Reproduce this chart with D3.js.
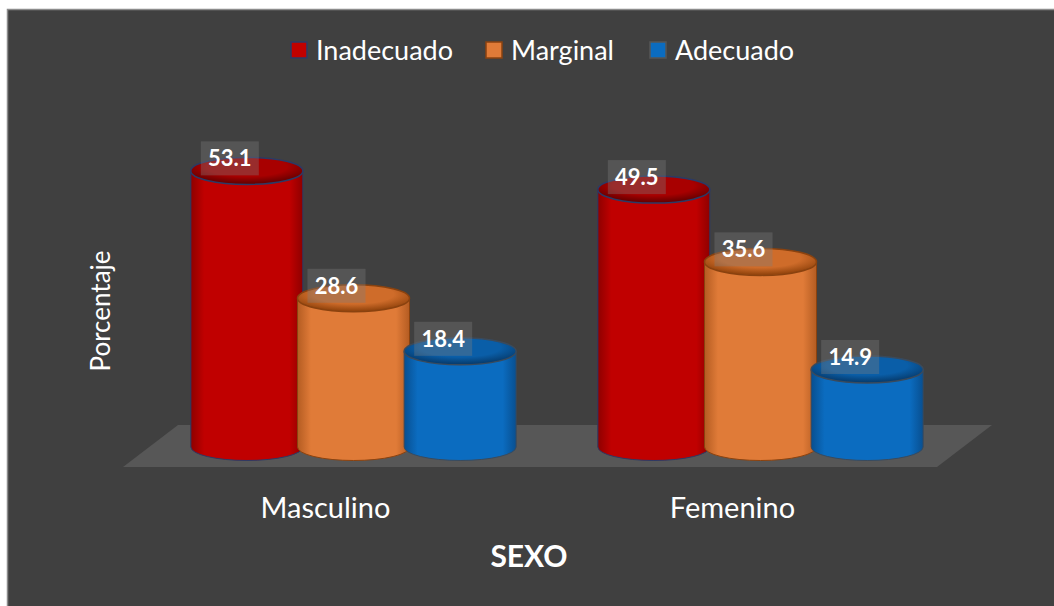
<!DOCTYPE html>
<html>
<head>
<meta charset="utf-8">
<script src="https://cdn.jsdelivr.net/npm/d3@7"></script>
<style>
  html, body { margin: 0; padding: 0; background: #ffffff; }
  svg { display: block; }
  text { font-family: Lato, "Open Sans", sans-serif; }
</style>
</head>
<body>
<svg id="chart" width="1054" height="606"></svg>
<script>
const categories = ["Masculino", "Femenino"];
const seriesNames = ["Inadecuado", "Marginal", "Adecuado"];
const inadecuado = [53.1, 49.5];
const marginal = [28.6, 35.6];
const adecuado = [18.4, 14.9];
const yMax = 60;

const seriesValues = [inadecuado, marginal, adecuado];
const palette = [
  { base: "#c00000", dark: "#8e0000", top: "#a80000", topDark: "#6a0000", stroke: "#2b3a66", legendStroke: "#2b3a66" },
  { base: "#e07b38", dark: "#b45c22", top: "#cf6c2a", topDark: "#97470f", stroke: "#8a420f", legendStroke: "#8a420f" },
  { base: "#0b6cc0", dark: "#084f90", top: "#0a5ea8", topDark: "#063e72", stroke: "#3a4a5c", legendStroke: "#555555" }
];

const svg = d3.select("#chart");
const defs = svg.append("defs");

// frame
svg.append("rect").attr("x", 7.5).attr("y", 9.5).attr("width", 1100).attr("height", 700)
  .attr("fill", "#404040").attr("stroke", "#8c8c8c").attr("stroke-width", 1.5);

// scales
const x = d3.scaleBand().domain(categories).range([150, 964]).padding(0);
const xs = d3.scaleBand().domain(seriesNames).range([-160, 160]).padding(0);
const y = d3.scaleLinear().domain([0, yMax]).range([447, 135]);
const rx = 56, ry = 13.5;

// gradients
palette.forEach((p, i) => {
  const g = defs.append("linearGradient").attr("id", "side" + i).attr("x1", "0").attr("x2", "1").attr("y1", "0").attr("y2", "0");
  [[0, p.dark], [0.12, p.base], [0.5, p.base], [0.88, p.base], [1, p.dark]].forEach(s =>
    g.append("stop").attr("offset", s[0]).attr("stop-color", s[1]));
  const t = defs.append("radialGradient").attr("id", "top" + i).attr("cx", "0.5").attr("cy", "0.35").attr("r", "0.6");
  [[0, p.top], [0.6, p.top], [1, p.topDark]].forEach(s =>
    t.append("stop").attr("offset", s[0]).attr("stop-color", s[1]));
});

// floor
const floorBottom = y(0) + 20, floorTop = y(0) - 22;
const fx0 = x.range()[0], fx1 = x.range()[1];
svg.append("path")
  .attr("d", `M${fx0 - 27},${floorBottom} L${fx0 + 28},${floorTop} L${fx1 + 28},${floorTop} L${fx1 - 27},${floorBottom} Z`)
  .attr("fill", "#575757");

// cylinders
const cyl = svg.append("g");
categories.forEach((c, ci) => {
  seriesNames.forEach((s, si) => {
    const v = seriesValues[si][ci];
    const cx = x(c) + x.bandwidth() / 2 + xs(s) + xs.bandwidth() / 2;
    const yT = y(v), yB = y(0);
    const g = cyl.append("g");
    g.append("path")
      .attr("d", `M${cx - rx},${yT} L${cx - rx},${yB} A${rx},${ry} 0 0 0 ${cx + rx},${yB} L${cx + rx},${yT} Z`)
      .attr("fill", `url(#side${si})`)
      .attr("stroke", palette[si].stroke).attr("stroke-width", 1);
    g.append("ellipse").attr("cx", cx).attr("cy", yT).attr("rx", rx).attr("ry", ry)
      .attr("fill", `url(#top${si})`)
      .attr("stroke", palette[si].stroke).attr("stroke-width", 1.5);
  });
});

// data labels
const lab = svg.append("g");
categories.forEach((c, ci) => {
  seriesNames.forEach((s, si) => {
    const v = seriesValues[si][ci];
    const cx = x(c) + x.bandwidth() / 2 + xs(s) + xs.bandwidth() / 2 - 17;
    const cy = y(v) - ry + 1;
    lab.append("rect").attr("x", cx - 29).attr("y", cy - 17).attr("width", 58).attr("height", 34)
      .attr("fill", "rgba(125,125,125,0.35)");
    lab.append("text").attr("x", cx).attr("y", cy + 8).attr("text-anchor", "middle")
      .attr("fill", "#ffffff").attr("font-weight", "bold").attr("font-size", 22)
      .text(v.toFixed(1));
  });
});

// category axis labels
categories.forEach(c => {
  svg.append("text").attr("x", x(c) + x.bandwidth() / 2 - 28).attr("y", 518)
    .attr("text-anchor", "middle").attr("fill", "#ffffff").attr("font-size", 29).text(c);
});

// axis titles
svg.append("text").attr("transform", "translate(110,311) rotate(-90)")
  .attr("text-anchor", "middle").attr("fill", "#ffffff").attr("font-size", 26).text("Porcentaje");
svg.append("text").attr("x", 529).attr("y", 567).attr("text-anchor", "middle")
  .attr("fill", "#ffffff").attr("font-size", 30).attr("font-weight", "bold").text("SEXO");

// legend
const legendX = [291, 486, 650];
seriesNames.forEach((s, si) => {
  svg.append("rect").attr("x", legendX[si]).attr("y", 42).attr("width", 16).attr("height", 16)
    .attr("fill", palette[si].base).attr("stroke", palette[si].legendStroke).attr("stroke-width", 1.5);
  svg.append("text").attr("x", legendX[si] + 25).attr("y", 60).attr("fill", "#ffffff")
    .attr("font-size", 27).text(s);
});
</script>
</body>
</html>
